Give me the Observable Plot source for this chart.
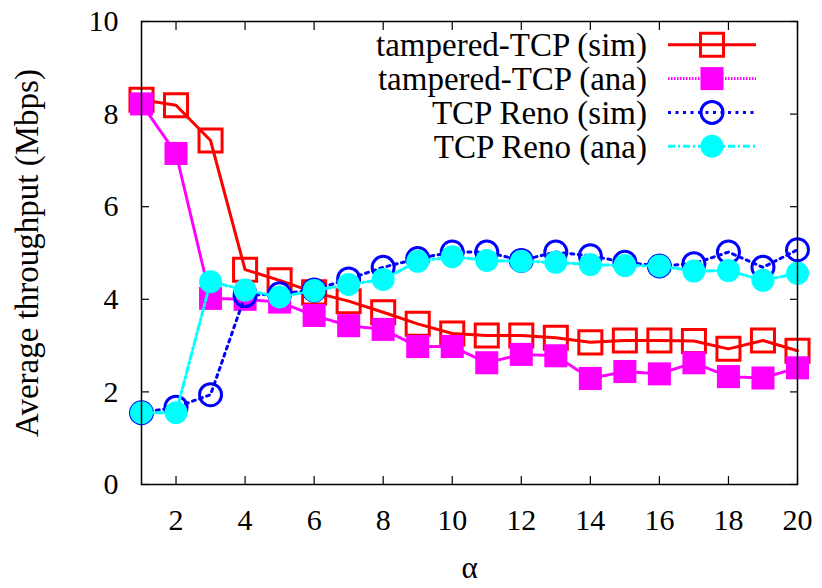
<!DOCTYPE html>
<html><head><meta charset="utf-8">
<script src="https://cdn.jsdelivr.net/npm/d3@7"></script>
<script src="https://cdn.jsdelivr.net/npm/@observablehq/plot@0.6"></script>
<style>body{margin:0;background:#fff} svg{display:block}</style>
</head><body><div id="chart"></div>
<script>
const alpha = [1, 2, 3, 4, 5, 6, 7, 8, 9, 10, 11, 12, 13, 14, 15, 16, 17, 18, 19, 20];
const tamperedSim = [8.31, 8.19, 7.43, 4.64, 4.41, 4.15, 3.96, 3.72, 3.47, 3.26, 3.22, 3.22, 3.17, 3.07, 3.11, 3.11, 3.10, 2.93, 3.11, 2.89];
const tamperedAna = [8.22, 7.15, 4.02, 4.00, 3.94, 3.65, 3.43, 3.35, 2.98, 2.98, 2.63, 2.81, 2.78, 2.29, 2.44, 2.39, 2.63, 2.33, 2.30, 2.52];
const renoSim = [1.55, 1.67, 1.94, 4.08, 4.12, 4.20, 4.44, 4.69, 4.88, 5.02, 5.02, 4.84, 5.02, 4.94, 4.80, 4.72, 4.77, 5.02, 4.69, 5.07];
const renoAna = [1.55, 1.55, 4.38, 4.20, 4.05, 4.19, 4.32, 4.43, 4.82, 4.92, 4.84, 4.82, 4.80, 4.75, 4.73, 4.72, 4.61, 4.62, 4.41, 4.56];
const seriesNames = ["tampered-TCP (sim)", "tampered-TCP (ana)", "TCP Reno (sim)", "TCP Reno (ana)"];
const xTicks = [2, 4, 6, 8, 10, 12, 14, 16, 18, 20];
const yTicks = [0, 2, 4, 6, 8, 10];
const xLabel = "α";
const yLabel = "Average throughput (Mbps)";

const styles = [
  {color: "#ff0000", dash: null, symbol: "square", filled: false, r: 13},
  {color: "#ff00ff", dash: "1.5,1.5", symbol: "square", filled: true, r: 13},
  {color: "#0000ff", dash: "3,4.5", symbol: "circle", filled: false, r: 11},
  {color: "#00ffff", dash: "7,3,2,3", symbol: "circle", filled: true, r: 11.5}
];
const valuesList = [tamperedSim, tamperedAna, renoSim, renoAna];
const seriesData = valuesList.map((vals, k) => vals.map((v, i) => ({alpha: alpha[i], value: v, series: seriesNames[k]})));

const FONT = "Liberation Serif, Times New Roman, serif";

function legendMark(index, scales, values, dimensions) {
  const {width, marginRight, marginTop} = dimensions;
  const right = width - marginRight;
  const g = d3.create("svg:g").attr("font-family", FONT);
  seriesNames.forEach((name, k) => {
    const st = styles[k];
    const y = marginTop + 23.8 + k * 33.8;
    g.append("text").attr("x", right - 150).attr("y", y).attr("dy", "0.35em")
      .attr("text-anchor", "end").attr("font-size", 33).attr("fill", "#000").text(name);
    g.append("line").attr("x1", right - 129).attr("x2", right - 41).attr("y1", y).attr("y2", y)
      .attr("stroke", st.color).attr("stroke-width", 3).attr("stroke-dasharray", st.dash);
    const sym = d3.symbol(st.symbol === "square" ? d3.symbolSquare : d3.symbolCircle, Math.PI * st.r * st.r)();
    g.append("path").attr("d", sym).attr("transform", `translate(${right - 85},${y})`)
      .attr("fill", st.filled ? st.color : "none").attr("stroke", st.filled ? "none" : st.color).attr("stroke-width", 3);
  });
  return g.node();
}

const marks = [];
seriesData.forEach((d, k) => {
  const st = styles[k];
  marks.push(Plot.line(d, {x: "alpha", y: "value", stroke: st.color, strokeWidth: 3, strokeDasharray: st.dash}));
  marks.push(Plot.dot(d, {x: "alpha", y: "value", symbol: st.symbol, r: st.r,
    fill: st.filled ? st.color : "none", stroke: st.filled ? "none" : st.color, strokeWidth: 3}));
});

const chart = Plot.plot({
  width: 822, height: 588,
  marginLeft: 141, marginRight: 25, marginTop: 21, marginBottom: 104,
  style: {fontFamily: FONT, background: "#fff", color: "#000", overflow: "visible"},
  x: {domain: [1, 20]},
  y: {domain: [0, 10]},
  marks: [
    Plot.axisX({anchor: "bottom", ticks: xTicks, tickSize: -8, tickPadding: 32, fontSize: 30, label: null, strokeWidth: 1.2}),
    Plot.axisX({anchor: "top", ticks: xTicks, tickSize: -8, tickFormat: () => "", label: null, strokeWidth: 1.2}),
    Plot.axisY({anchor: "left", ticks: yTicks, tickSize: -8, tickPadding: 31, fontSize: 30, label: null, strokeWidth: 1.2}),
    Plot.axisY({anchor: "right", ticks: yTicks, tickSize: -8, tickFormat: () => "", label: null, strokeWidth: 1.2}),
    ...marks,
    Plot.frame({stroke: "#000", strokeWidth: 1.5}),
    Plot.text([xLabel], {text: d => d, frameAnchor: "bottom", dy: 84, fontSize: 31, lineAnchor: "middle"}),
    Plot.text([yLabel], {text: d => d, frameAnchor: "left", dx: -114, rotate: -90, fontSize: 33, lineAnchor: "middle", textAnchor: "middle"}),
    legendMark
  ]
});
document.getElementById("chart").appendChild(chart);
</script>
</body></html>
